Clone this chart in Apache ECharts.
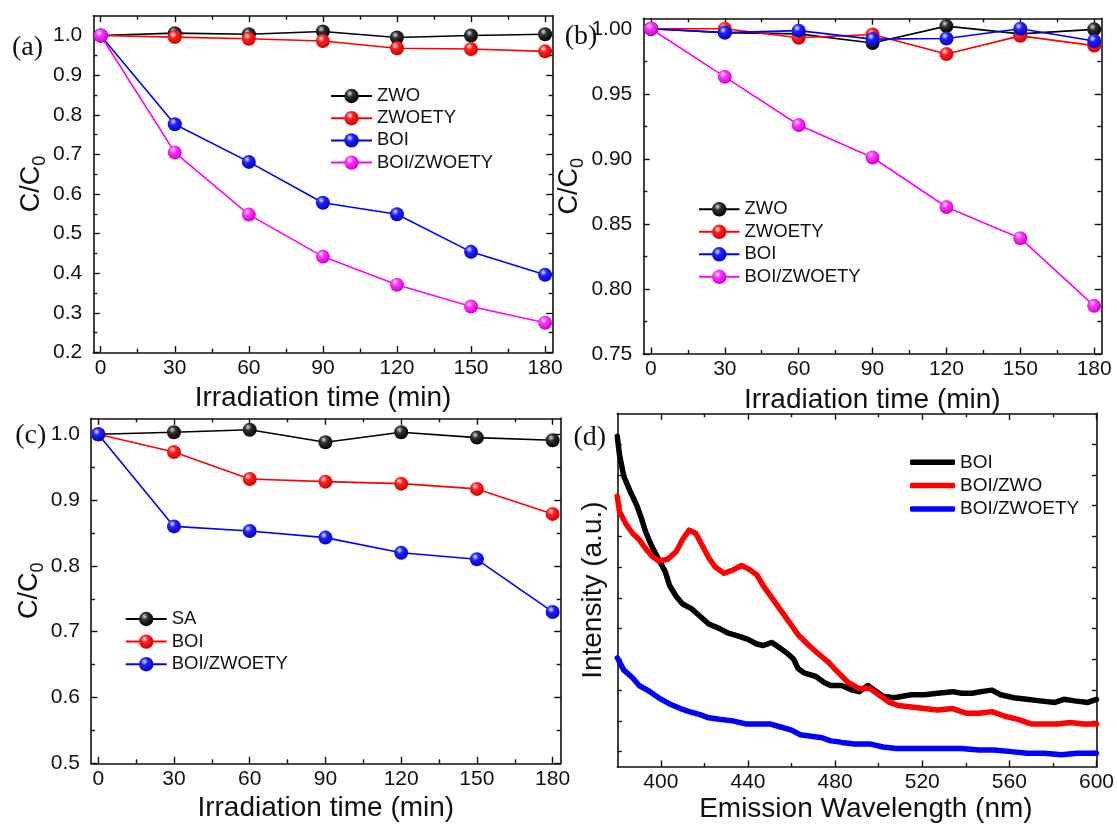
<!DOCTYPE html>
<html>
<head>
<meta charset="utf-8">
<script src="https://cdn.jsdelivr.net/npm/echarts@6/dist/echarts.min.js"></script>
<style>
  html, body { margin: 0; padding: 0; background: #fff; }
  #chart { width: 1117px; height: 825px; }
</style>
</head>
<body>
<div id="chart"></div>
<script>
// ---- sampling times (min) ----
const times = [0, 30, 60, 90, 120, 150, 180];

// ---- (a) C/C0 vs irradiation time ----
const aZWO    = [1.000, 1.006, 1.003, 1.010, 0.995, 1.000, 1.003];
const aZWOETY = [1.000, 0.996, 0.992, 0.986, 0.968, 0.966, 0.960];
const aBOI    = [1.000, 0.776, 0.681, 0.578, 0.549, 0.454, 0.396];
const aBOIZ   = [1.000, 0.705, 0.548, 0.442, 0.371, 0.316, 0.275];

// ---- (b) C/C0 vs irradiation time ----
const bZWO    = [1.000, 0.997, 0.996, 0.989, 1.002, 0.996, 0.9995];
const bZWOETY = [1.000, 1.000, 0.993, 0.9955, 0.9805, 0.9945, 0.987];
const bBOI    = [1.000, 0.997, 0.9985, 0.992, 0.9925, 1.000, 0.9905];
const bBOIZ   = [1.000, 0.963, 0.926, 0.901, 0.863, 0.839, 0.787];

// ---- (c) C/C0 vs irradiation time ----
const cSA   = [1.000, 1.003, 1.007, 0.988, 1.003, 0.995, 0.991];
const cBOI  = [1.000, 0.973, 0.932, 0.928, 0.925, 0.917, 0.879];
const cBOIZ = [1.000, 0.860, 0.853, 0.843, 0.820, 0.810, 0.730];

// ---- (d) PL emission spectra (arbitrary intensity units) ----
const dBOInm = [380, 381, 383, 386, 389, 391, 393, 396, 399, 402, 404, 407, 410, 414, 418, 422, 427, 431, 436, 440,
                444, 447, 451, 454, 458, 461, 463, 466, 471, 475, 478, 481, 483, 488, 491, 495, 499, 502, 507, 511,
                515, 521, 527, 534, 538, 543, 547, 552, 556, 562, 568, 574, 581, 585, 590, 596, 600];
const dBOI   = [21.5, 20.3, 18.9, 17.9, 17.0, 16.2, 15.3, 14.3, 13.5, 12.7, 11.8, 11.1, 10.6, 10.3, 9.8, 9.3, 9.0, 8.7, 8.5, 8.3,
                8.0, 7.9, 8.1, 7.8, 7.4, 7.0, 6.4, 6.1, 5.9, 5.5, 5.3, 5.3, 5.3, 5.0, 4.9, 5.3, 4.9, 4.6, 4.5, 4.6,
                4.7, 4.7, 4.8, 4.9, 4.8, 4.8, 4.9, 5.0, 4.7, 4.5, 4.4, 4.3, 4.2, 4.4, 4.3, 4.2, 4.4];
const dZWOnm = [380, 381, 384, 387, 390, 393, 396, 399, 403, 407, 410, 413, 416, 419, 422, 425, 429, 433, 437, 440,
                444, 447, 451, 455, 459, 463, 468, 472, 477, 481, 486, 491, 496, 500, 505, 509, 515, 521, 527, 534,
                540, 546, 552, 558, 564, 570, 576, 582, 588, 594, 600];
const dZWO   = [17.6, 16.6, 15.8, 15.2, 14.8, 14.2, 13.7, 13.4, 13.5, 14.0, 14.8, 15.4, 15.2, 14.4, 13.6, 13.0, 12.6, 12.8, 13.1, 12.9,
                12.5, 11.8, 11.0, 10.2, 9.4, 8.6, 7.9, 7.4, 6.8, 6.2, 5.5, 5.1, 5.1, 4.7, 4.2, 4.0, 3.9, 3.8, 3.7, 3.8,
                3.5, 3.5, 3.6, 3.3, 3.1, 2.8, 2.8, 2.8, 2.9, 2.8, 2.8];
const dETYnm = [380, 383, 387, 390, 395, 399, 404, 409, 413, 418, 422, 427, 433, 439, 445, 450, 455, 460, 464, 469,
                474, 478, 481, 483, 489, 496, 502, 508, 515, 523, 530, 538, 546, 553, 561, 568, 576, 584, 591, 600];
const dETY   = [7.1, 6.3, 5.8, 5.3, 4.9, 4.5, 4.1, 3.8, 3.6, 3.4, 3.2, 3.1, 3.0, 2.8, 2.8, 2.8, 2.6, 2.4, 2.1, 2.0,
                1.9, 1.7, 1.65, 1.6, 1.5, 1.5, 1.3, 1.2, 1.2, 1.2, 1.2, 1.2, 1.1, 1.1, 1.0, 0.9, 0.9, 0.8, 0.9, 0.9];

// ---- tick positions / labels ----
const timeTicks = [0, 30, 60, 90, 120, 150, 180];
const timeMinor = [15, 45, 75, 105, 135, 165];
const aTicks = [0.2, 0.3, 0.4, 0.5, 0.6, 0.7, 0.8, 0.9, 1.0];
const aMinor = [0.25, 0.35, 0.45, 0.55, 0.65, 0.75, 0.85, 0.95];
const bTicks = [0.75, 0.80, 0.85, 0.90, 0.95, 1.00];
const bMinor = [0.775, 0.825, 0.875, 0.925, 0.975];
const cTicks = [0.5, 0.6, 0.7, 0.8, 0.9, 1.0];
const cMinor = [0.55, 0.65, 0.75, 0.85, 0.95];
const wlTicks = [400, 440, 480, 520, 560, 600];
const wlMinor = [420, 460, 500, 540, 580];
const intTicks = [1, 3, 5, 7, 9, 11, 13, 15, 17, 19, 21];

const FONT = '"Liberation Sans", Arial, sans-serif';
const SERIF = '"Liberation Serif", "Times New Roman", serif';
const INK = '#111';

const pairs = (xs, ys) => xs.map((x, i) => [x, ys[i]]);

// glossy ball fill for markers
function ball(hi, mid, edge) {
  return {
    type: 'radial', x: 0.38, y: 0.32, r: 0.7,
    colorStops: [{ offset: 0, color: hi }, { offset: 0.35, color: mid }, { offset: 1, color: edge }]
  };
}
const BLACK = { line: '#000000', fill: ball('#d8d8d8', '#303030', '#000000') };
const RED   = { line: '#ff0000', fill: ball('#ffe4e4', '#ff2020', '#cc0000') };
const BLUE  = { line: '#0000ff', fill: ball('#e4e4ff', '#2222ff', '#0000c0') };
const PINK  = { line: '#ff00ff', fill: ball('#ffe4ff', '#ff33ff', '#cc00cc') };

const tickStyle = { color: INK, width: 1.4 };
const frameStyle = { color: INK, width: 1.6 };

// four x axes per grid: bottom (labels + major), bottom minor, top major, top minor
function xAxes(g, range, major, minor, fmt, name, nameGap, namePad) {
  const base = { type: 'value', gridIndex: g, min: range[0], max: range[1], splitLine: { show: false } };
  return [
    Object.assign({}, base, {
      position: 'bottom',
      axisLine: { show: true, onZero: false, lineStyle: frameStyle },
      axisTick: { show: true, inside: true, length: 6.5, customValues: major, lineStyle: tickStyle },
      axisLabel: { show: true, customValues: major, formatter: fmt, fontSize: 21, fontFamily: FONT, color: INK, margin: 5 },
      name: name, nameLocation: 'middle', nameGap: nameGap,
      nameTextStyle: { fontSize: 28, fontFamily: FONT, color: INK, padding: namePad || 0 }
    }),
    Object.assign({}, base, {
      position: 'bottom',
      axisLine: { show: false, onZero: false },
      axisTick: { show: minor.length > 0, inside: true, length: 4, customValues: minor, lineStyle: tickStyle },
      axisLabel: { show: false }
    }),
    Object.assign({}, base, {
      position: 'top',
      axisLine: { show: true, onZero: false, lineStyle: frameStyle },
      axisTick: { show: true, inside: true, length: 6.5, customValues: major, lineStyle: tickStyle },
      axisLabel: { show: false }
    }),
    Object.assign({}, base, {
      position: 'top',
      axisLine: { show: false, onZero: false },
      axisTick: { show: minor.length > 0, inside: true, length: 4, customValues: minor, lineStyle: tickStyle },
      axisLabel: { show: false }
    })
  ];
}

// four y axes per grid: left (labels + major), left minor, right major, right minor
function yAxes(g, range, major, minor, fmt, name, nameGap, nameStyle, showLabels, majorLen) {
  const base = { type: 'value', gridIndex: g, min: range[0], max: range[1], splitLine: { show: false } };
  const len = majorLen || 6.5;
  return [
    Object.assign({}, base, {
      position: 'left',
      axisLine: { show: true, onZero: false, lineStyle: frameStyle },
      axisTick: { show: true, inside: true, length: len, customValues: major, lineStyle: tickStyle },
      axisLabel: { show: showLabels, customValues: major, formatter: fmt, fontSize: 21, fontFamily: FONT, color: INK, margin: 11 },
      name: name, nameLocation: 'middle', nameGap: nameGap, nameRotate: 90,
      nameTextStyle: nameStyle
    }),
    Object.assign({}, base, {
      position: 'left',
      axisLine: { show: false, onZero: false },
      axisTick: { show: minor.length > 0, inside: true, length: 4, customValues: minor, lineStyle: tickStyle },
      axisLabel: { show: false }
    }),
    Object.assign({}, base, {
      position: 'right',
      axisLine: { show: true, onZero: false, lineStyle: frameStyle },
      axisTick: { show: true, inside: true, length: len, customValues: major, lineStyle: tickStyle },
      axisLabel: { show: false }
    }),
    Object.assign({}, base, {
      position: 'right',
      axisLine: { show: false, onZero: false },
      axisTick: { show: minor.length > 0, inside: true, length: 4, customValues: minor, lineStyle: tickStyle },
      axisLabel: { show: false }
    })
  ];
}

// C/C0 with a lowered, smaller "0"
const ccName = '{m|C/C}{s|0}';
const ccStyle = {
  color: INK,
  rich: {
    m: { fontSize: 27, lineHeight: 27, verticalAlign: 'top', fontFamily: FONT, color: INK },
    s: { fontSize: 18, lineHeight: 31, verticalAlign: 'bottom', fontFamily: FONT, color: INK }
  }
};
const intensityStyle = { fontSize: 28, fontFamily: FONT, color: INK };

const f1 = v => v.toFixed(1);
const f2 = v => v.toFixed(2);
const fi = v => String(v);

const timeName = 'Irradiation time (min)';

const xAxisList = [].concat(
  xAxes(0, [-3.0, 183.1], timeTicks, timeMinor, fi, timeName, 32),
  xAxes(1, [-3.1, 182.9], timeTicks, timeMinor, fi, timeName, 32),
  xAxes(2, [-2.9, 183.2], timeTicks, timeMinor, fi, timeName, 31),
  xAxes(3, [380, 600], wlTicks, wlMinor, fi, 'Emission Wavelength (nm)', 28, [0, 0, 0, 18])
);
const yAxisList = [].concat(
  yAxes(0, [0.2, 1.05], aTicks, aMinor, f1, ccName, 43, ccStyle, true),
  yAxes(1, [0.75, 1.008], bTicks, bMinor, f2, ccName, 51, ccStyle, true),
  yAxes(2, [0.5, 1.0243], cTicks, cMinor, f1, ccName, 43, ccStyle, true),
  yAxes(3, [0, 23], intTicks, [], fi, 'Intensity (a.u.)', 10, intensityStyle, false, 4.5)
);

function kinetic(g, id, vals, col) {
  return {
    type: 'line', name: id, xAxisIndex: g * 4, yAxisIndex: g * 4,
    data: pairs(times, vals),
    symbol: 'circle', symbolSize: 14,
    lineStyle: { color: col.line, width: 1.6 },
    itemStyle: { color: col.fill },
    clip: false, z: 3
  };
}
function spectrum(id, xs, ys, col) {
  return {
    type: 'line', name: id, xAxisIndex: 12, yAxisIndex: 12,
    data: pairs(xs, ys),
    symbol: 'none', showSymbol: false,
    lineStyle: { color: col, width: 5.5, cap: 'round', join: 'round' },
    itemStyle: { color: col },
    z: 3
  };
}

const series = [
  kinetic(0, 'a:ZWO', aZWO, BLACK),
  kinetic(0, 'a:ZWOETY', aZWOETY, RED),
  kinetic(0, 'a:BOI', aBOI, BLUE),
  kinetic(0, 'a:BOI/ZWOETY', aBOIZ, PINK),
  kinetic(1, 'b:ZWO', bZWO, BLACK),
  kinetic(1, 'b:ZWOETY', bZWOETY, RED),
  kinetic(1, 'b:BOI', bBOI, BLUE),
  kinetic(1, 'b:BOI/ZWOETY', bBOIZ, PINK),
  kinetic(2, 'c:SA', cSA, BLACK),
  kinetic(2, 'c:BOI', cBOI, RED),
  kinetic(2, 'c:BOI/ZWOETY', cBOIZ, BLUE),
  spectrum('d:BOI', dBOInm, dBOI, '#000000'),
  spectrum('d:BOI/ZWO', dZWOnm, dZWO, '#ff0000'),
  spectrum('d:BOI/ZWOETY', dETYnm, dETY, '#0000ff')
];

// series ids carry a panel prefix; the legend shows the plain name
const stripPrefix = n => n.slice(2);
function legend(names, left, top, width, height, gap, fontSize, icon) {
  const l = {
    orient: 'vertical', left: left, top: top, padding: 0,
    itemWidth: width, itemHeight: height, itemGap: gap,
    textStyle: { fontSize: fontSize, lineHeight: 20, fontFamily: FONT, color: INK },
    formatter: stripPrefix, selectedMode: false,
    data: names
  };
  if (icon) l.icon = icon;
  return l;
}

const option = {
  backgroundColor: '#ffffff',
  animation: false,
  grid: [
    { left: 93.3, top: 15.7, width: 459.4, height: 336.8 },
    { left: 643.3, top: 18.3, width: 458, height: 335.7 },
    { left: 90.9, top: 418.3, width: 469.8, height: 345 },
    { left: 617.3, top: 413.3, width: 482.7, height: 353.7 }
  ],
  xAxis: xAxisList,
  yAxis: yAxisList,
  legend: [
    legend(['a:ZWO', 'a:ZWOETY', 'a:BOI', 'a:BOI/ZWOETY'], 330, 86, 41, 18, 2.2, 18.5),
    legend(['b:ZWO', 'b:ZWOETY', 'b:BOI', 'b:BOI/ZWOETY'], 698, 199.3, 40.5, 18, 2.5, 18.5),
    legend(['c:SA', 'c:BOI', 'c:BOI/ZWOETY'], 124.7, 609, 41, 18, 2.6, 18.5),
    legend(['d:BOI', 'd:BOI/ZWO', 'd:BOI/ZWOETY'], 910, 452.3, 45, 5.5, 3.3, 19, 'roundRect')
  ],
  graphic: [
    { type: 'text', x: 27.5, y: 48, style: { text: '(a)', font: '28px ' + SERIF, fill: INK, textAlign: 'center', textVerticalAlign: 'middle' } },
    { type: 'text', x: 581, y: 37, style: { text: '(b)', font: '28px ' + SERIF, fill: INK, textAlign: 'center', textVerticalAlign: 'middle' } },
    { type: 'text', x: 30.7, y: 436, style: { text: '(c)', font: '28px ' + SERIF, fill: INK, textAlign: 'center', textVerticalAlign: 'middle' } },
    { type: 'text', x: 589.7, y: 438, style: { text: '(d)', font: '28px ' + SERIF, fill: INK, textAlign: 'center', textVerticalAlign: 'middle' } }
  ],
  series: series
};

const chart = echarts.init(document.getElementById('chart'), null, { renderer: 'canvas' });
chart.setOption(option);
</script>
</body>
</html>
